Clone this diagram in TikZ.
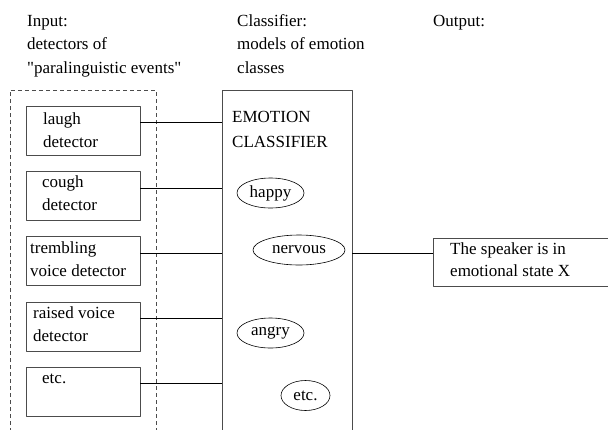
\documentclass[tikz,border=0pt]{standalone}
\usepackage{fontspec}
\setmainfont{Liberation Serif}[Ligatures=TeXOff]
\usetikzlibrary{shapes.geometric}
\definecolor{boxgray}{rgb}{0.3,0.3,0.3}
\tikzset{
  detbox/.style={draw=boxgray,line width=0.8pt,minimum width=114pt,minimum height=49pt,inner sep=0pt},
  emo/.style={draw,ellipse,line width=0.6pt,inner sep=0pt,minimum height=30pt,font=\fontsize{17}{23}\selectfont},
  txt/.style={anchor=base west,align=left,inner sep=0pt,font=\fontsize{17}{23}\selectfont},
  wire/.style={line width=0.8pt}
}
% base of a txt node is the baseline of its last line
\begin{document}
\begin{tikzpicture}[line join=round,x=1pt,y=-1pt]
\useasboundingbox (0,0) rectangle (608,429);
% headings
\node[txt,font=\fontsize{17}{23.5}\selectfont] (hdin) at (27,73) {Input:\\detectors of\\"paralinguistic events"};
\node[txt,font=\fontsize{17}{23.5}\selectfont] (hdcl) at (237,73) {Classifier:\\models of emotion\\classes};
\node[txt] (hdout) at (433,26) {Output:};
% input group
\draw[boxgray,line width=0.8pt,dash pattern=on 4pt off 3pt] (10,432) -- (10,90) -- (156,90) -- (156,432);
\node[detbox] (laugh) at (83,130.5) {};
\node[detbox] (cough) at (83,196) {};
\node[detbox] (trembling) at (83,261) {};
\node[detbox] (raised) at (83,326.5) {};
\node[detbox] (etcdet) at (83,391.5) {};
\node[txt] (laughtxt) at (43,147) {laugh\\detector};
\node[txt] (coughtxt) at (42,210) {cough\\detector};
\node[txt] (tremblingtxt) at (30,276) {trembling\\voice detector};
\node[txt] (raisedtxt) at (33,341) {raised voice\\detector};
\node[txt] (etcdettxt) at (42,383) {etc.};
% classifier
\node[draw=boxgray,line width=0.8pt,minimum width=130pt,minimum height=350pt,inner sep=0pt] (classifier) at (287,265) {};
\node[txt,font=\fontsize{17}{25}\selectfont] (classtxt) at (232,147) {EMOTION\\CLASSIFIER};
\node[emo,minimum width=67pt] (happy) at (270.5,193) {happy};
\node[emo,minimum width=92pt] (nervous) at (299,250) {nervous};
\node[emo,minimum width=67pt] (angry) at (270.5,333) {angry};
\node[emo,minimum width=49pt] (etcemo) at (305.5,395.5) {etc.};
% output
\node[detbox,minimum width=182pt,minimum height=48pt] (out) at (524,262) {};
\node[txt,font=\fontsize{17}{22.5}\selectfont] (outtxt) at (450,276.5) {The speaker is in\\emotional state X};
% connectors
\foreach \d in {laugh,cough,trembling,raised,etcdet}
  \draw[wire] ([yshift=8pt]\d.east) -- ([yshift=8pt]\d.east -| classifier.west);
\draw[wire] ([yshift=9pt]out.west -| classifier.east) -- ([yshift=9pt]out.west);
\end{tikzpicture}
\end{document}
